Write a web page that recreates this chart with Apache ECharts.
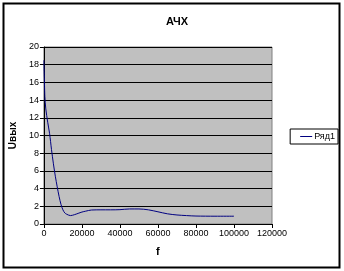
<!DOCTYPE html>
<html><head><meta charset="utf-8">
<script src="https://cdn.jsdelivr.net/npm/echarts@6/dist/echarts.min.js"></script>
<style>html,body{margin:0;padding:0;background:#fff}#c{width:344px;height:271px}</style>
</head><body><div id="c"></div>
<script>
const freq = [0,500,1000,2000,3000,4000,5000,6000,7000,8000,9000,10000,11000,12000,14000,16000,18000,20000,22000,25000,30000,35000,40000,45000,50000,55000,60000,65000,70000,75000,80000,90000,100000];
const uout = [18.5,14.4,13,11.5,10.2,8.4,6.8,5.4,4.2,3.1,2.2,1.6,1.25,1.1,0.95,1.05,1.2,1.35,1.45,1.58,1.6,1.6,1.62,1.7,1.7,1.6,1.38,1.15,1.02,0.95,0.9,0.88,0.88];
const seriesName = 'Ряд1';
const titleText = 'АЧХ';
const xName = 'f';
const yName = 'Uвых';

const chart = echarts.init(document.getElementById('c'));
const font = 'Liberation Sans, Arial, sans-serif';
chart.setOption({
  animation: false,
  title: {text: titleText, left: 172, top: 11, textAlign: 'center',
    textStyle: {fontFamily: font, fontSize: 11, fontWeight: 'bold', color: '#000'}},
  legend: {right: 6, top: 129, orient: 'vertical', itemWidth: 12, itemHeight: 8, itemGap: 0,
    padding: [3, 3, 3, 10], borderColor: '#000', borderWidth: 1, borderRadius: 0,
    icon: 'path://M0,4 L12,4 L12,5 L0,5 Z', data: [seriesName],
    textStyle: {fontFamily: font, fontSize: 9, color: '#000', padding: [0, 0, 0, -3]}},
  grid: {left: 43, top: 47, right: 72, bottom: 47, show: true, backgroundColor: '#c0c0c0', borderColor: '#808080', borderWidth: 1},
  xAxis: {type: 'value', min: 0, max: 120000, interval: 20000,
    name: xName, nameLocation: 'middle', nameGap: 22,
    nameTextStyle: {fontFamily: font, fontSize: 11, fontWeight: 'bold', color: '#000'},
    axisLine: {show: true, onZero: false, lineStyle: {color: '#000'}},
    axisTick: {show: true, length: 4, lineStyle: {color: '#000'}},
    axisLabel: {fontFamily: font, fontSize: 9, color: '#000', margin: 5, formatter: v => String(v)},
    splitLine: {show: false}},
  yAxis: {type: 'value', min: 0, max: 20, interval: 2,
    name: yName, nameLocation: 'middle', nameGap: 24, nameRotate: 90,
    nameTextStyle: {fontFamily: font, fontSize: 10, fontWeight: 'bold', color: '#000'},
    axisLine: {show: true, lineStyle: {color: '#000'}},
    axisTick: {show: true, length: 4, lineStyle: {color: '#000'}},
    axisLabel: {fontFamily: font, fontSize: 9, color: '#000', margin: 5},
    splitLine: {show: true, lineStyle: {color: '#000', width: 1}}},
  series: [{name: seriesName, type: 'line', data: freq.map((f, i) => [f, uout[i]]),
    showSymbol: false, smooth: 0.3, lineStyle: {color: '#000080', width: 1}, itemStyle: {color: '#000080'}}],
  graphic: [{type: 'rect', shape: {x: 3.5, y: 3.5, width: 336, height: 264}, style: {fill: 'none', stroke: '#000', lineWidth: 2}, silent: true}]
});
</script></body></html>
